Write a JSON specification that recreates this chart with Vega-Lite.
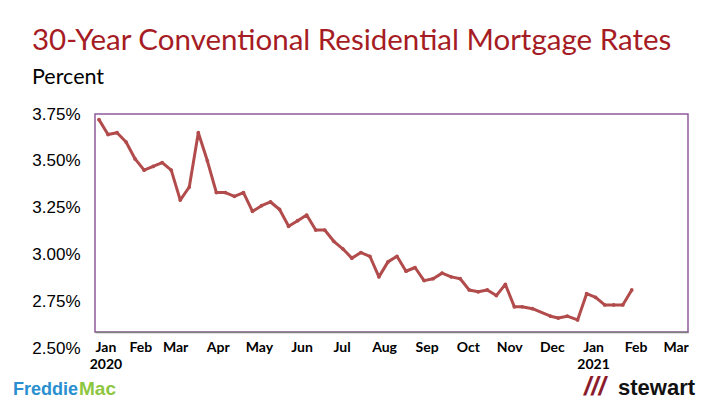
{
  "$schema": "https://vega.github.io/schema/vega-lite/v6.json",
  "width": 593,
  "height": 218,
  "autosize": {"type": "none"},
  "padding": {"left": 95, "top": 114, "right": 32, "bottom": 73},
  "background": "white",
  "config": {
    "view": {"stroke": "#8e5a9a", "strokeWidth": 1.5, "fill": "white"}
  },
  "title": {
    "text": "30-Year Conventional Residential Mortgage Rates",
    "subtitle": "Percent",
    "anchor": "start",
    "frame": "group",
    "dx": -63,
    "offset": 16,
    "font": "Lato",
    "fontSize": 29.5,
    "fontWeight": "normal",
    "color": "#A61C24",
    "subtitleFont": "Lato",
    "subtitleFontSize": 21.5,
    "subtitleColor": "#000000",
    "subtitlePadding": 10
  },
  "data": {
    "values": [
      {"date": "2020/01/02", "rate": 3.72},
      {"date": "2020/01/09", "rate": 3.64},
      {"date": "2020/01/16", "rate": 3.65},
      {"date": "2020/01/23", "rate": 3.60},
      {"date": "2020/01/30", "rate": 3.51},
      {"date": "2020/02/06", "rate": 3.45},
      {"date": "2020/02/13", "rate": 3.47},
      {"date": "2020/02/20", "rate": 3.49},
      {"date": "2020/02/27", "rate": 3.45},
      {"date": "2020/03/05", "rate": 3.29},
      {"date": "2020/03/12", "rate": 3.36},
      {"date": "2020/03/19", "rate": 3.65},
      {"date": "2020/03/26", "rate": 3.50},
      {"date": "2020/04/02", "rate": 3.33},
      {"date": "2020/04/09", "rate": 3.33},
      {"date": "2020/04/16", "rate": 3.31},
      {"date": "2020/04/23", "rate": 3.33},
      {"date": "2020/04/30", "rate": 3.23},
      {"date": "2020/05/07", "rate": 3.26},
      {"date": "2020/05/14", "rate": 3.28},
      {"date": "2020/05/21", "rate": 3.24},
      {"date": "2020/05/28", "rate": 3.15},
      {"date": "2020/06/04", "rate": 3.18},
      {"date": "2020/06/11", "rate": 3.21},
      {"date": "2020/06/18", "rate": 3.13},
      {"date": "2020/06/25", "rate": 3.13},
      {"date": "2020/07/02", "rate": 3.07},
      {"date": "2020/07/09", "rate": 3.03},
      {"date": "2020/07/16", "rate": 2.98},
      {"date": "2020/07/23", "rate": 3.01},
      {"date": "2020/07/30", "rate": 2.99},
      {"date": "2020/08/06", "rate": 2.88},
      {"date": "2020/08/13", "rate": 2.96},
      {"date": "2020/08/20", "rate": 2.99},
      {"date": "2020/08/27", "rate": 2.91},
      {"date": "2020/09/03", "rate": 2.93},
      {"date": "2020/09/10", "rate": 2.86},
      {"date": "2020/09/17", "rate": 2.87},
      {"date": "2020/09/24", "rate": 2.90},
      {"date": "2020/10/01", "rate": 2.88},
      {"date": "2020/10/08", "rate": 2.87},
      {"date": "2020/10/15", "rate": 2.81},
      {"date": "2020/10/22", "rate": 2.80},
      {"date": "2020/10/29", "rate": 2.81},
      {"date": "2020/11/05", "rate": 2.78},
      {"date": "2020/11/12", "rate": 2.84},
      {"date": "2020/11/19", "rate": 2.72},
      {"date": "2020/11/25", "rate": 2.72},
      {"date": "2020/12/03", "rate": 2.71},
      {"date": "2020/12/17", "rate": 2.67},
      {"date": "2020/12/23", "rate": 2.66},
      {"date": "2020/12/30", "rate": 2.67},
      {"date": "2021/01/07", "rate": 2.65},
      {"date": "2021/01/14", "rate": 2.79},
      {"date": "2021/01/21", "rate": 2.77},
      {"date": "2021/01/28", "rate": 2.73},
      {"date": "2021/02/04", "rate": 2.73},
      {"date": "2021/02/11", "rate": 2.73},
      {"date": "2021/02/18", "rate": 2.81}
    ]
  },
  "layer": [
    {
      "mark": {"type": "line", "color": "#B24C4C", "strokeWidth": 3, "strokeJoin": "round", "point": {"filled": true, "size": 14, "color": "#B24C4C"}},
      "encoding": {
        "x": {
          "field": "date",
          "type": "temporal",
          "scale": {"domain": [{"year": 2019, "month": 12, "date": 29, "hours": 22}, {"year": 2021, "month": 4, "date": 2, "hours": 14}]},
          "axis": {
            "title": null,
            "values": [
              {"year": 2020, "month": 1, "date": 7},
              {"year": 2020, "month": 2, "date": 3},
              {"year": 2020, "month": 3, "date": 1},
              {"year": 2020, "month": 4, "date": 3},
              {"year": 2020, "month": 5, "date": 5},
              {"year": 2020, "month": 6, "date": 7},
              {"year": 2020, "month": 7, "date": 8},
              {"year": 2020, "month": 8, "date": 10},
              {"year": 2020, "month": 9, "date": 12},
              {"year": 2020, "month": 10, "date": 14},
              {"year": 2020, "month": 11, "date": 15},
              {"year": 2020, "month": 12, "date": 18},
              {"year": 2021, "month": 1, "date": 19},
              {"year": 2021, "month": 2, "date": 21},
              {"year": 2021, "month": 3, "date": 24}
            ],
            "labelExpr": "month(datum.value) == 0 ? [timeFormat(datum.value, '%b'), timeFormat(datum.value, '%Y')] : timeFormat(datum.value, '%b')",
            "grid": false,
            "ticks": false,
            "domain": true,
            "domainColor": "#7f7f7f",
            "domainWidth": 1.5,
            "labelFont": "Lato",
            "labelFontWeight": "bold",
            "labelFontSize": 14,
            "labelColor": "#000000",
            "labelPadding": 8,
            "labelBaseline": "top",
            "labelLineHeight": 17,
            "labelFlush": false,
            "labelOverlap": false,
            "labelBound": false
          }
        },
        "y": {
          "field": "rate",
          "type": "quantitative",
          "scale": {"domain": [2.5, 3.75], "range": [234, 0], "zero": false, "nice": false},
          "axis": {
            "title": null,
            "values": [2.5, 2.75, 3, 3.25, 3.5, 3.75],
            "labelExpr": "format(datum.value, '.2f') + '%'",
            "grid": false,
            "ticks": false,
            "domain": false,
            "labelFont": "Liberation Sans",
            "labelFontSize": 17,
            "labelColor": "#000000",
            "labelPadding": 15
          }
        }
      }
    },
    {
      "data": {"values": [{"brand": "Freddie"}]},
      "mark": {"type": "text", "align": "left", "baseline": "alphabetic", "font": "Liberation Sans", "fontWeight": "bold", "fontSize": 18, "color": "#2A8FD0"},
      "encoding": {
        "x": {"datum": {"year": 2019, "month": 10, "date": 27, "hours": 10}, "type": "temporal"},
        "y": {"datum": 2.25, "type": "quantitative"},
        "text": {"field": "brand"}
      }
    },
    {
      "data": {"values": [{"brand": "Mac"}]},
      "mark": {"type": "text", "align": "left", "baseline": "alphabetic", "font": "Liberation Sans", "fontWeight": "bold", "fontSize": 19, "color": "#8DC63F"},
      "encoding": {
        "x": {"datum": {"year": 2019, "month": 12, "date": 17, "hours": 12}, "type": "temporal"},
        "y": {"datum": 2.25, "type": "quantitative"},
        "text": {"field": "brand"}
      }
    },
    {
      "data": {"values": [{"brand": "///"}]},
      "mark": {"type": "text", "align": "left", "baseline": "alphabetic", "font": "Liberation Sans", "fontWeight": "bold", "fontStyle": "italic", "fontSize": 26, "color": "#8B1C2C"},
      "encoding": {
        "x": {"datum": {"year": 2021, "month": 1, "date": 12}, "type": "temporal"},
        "y": {"datum": 2.25, "type": "quantitative"},
        "text": {"field": "brand"}
      }
    },
    {
      "data": {"values": [{"brand": "stewart"}]},
      "mark": {"type": "text", "align": "left", "baseline": "alphabetic", "font": "Liberation Sans", "fontWeight": "bold", "fontSize": 22, "color": "#111111"},
      "encoding": {
        "x": {"datum": {"year": 2021, "month": 2, "date": 7, "hours": 8}, "type": "temporal"},
        "y": {"datum": 2.25, "type": "quantitative"},
        "text": {"field": "brand"}
      }
    }
  ]
}
